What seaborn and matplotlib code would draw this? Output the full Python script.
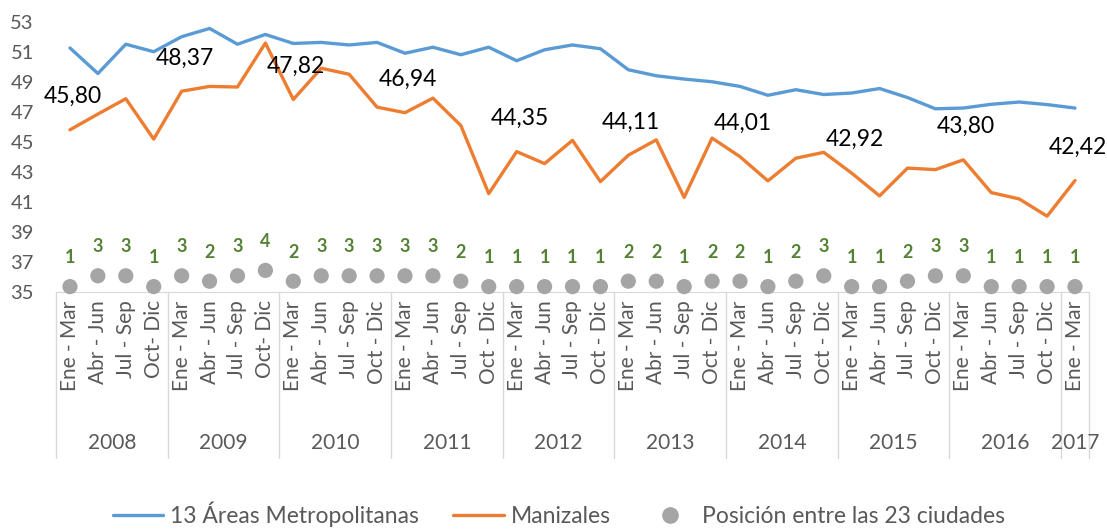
import numpy as np
import pandas as pd
import seaborn as sns
import matplotlib.pyplot as plt
from matplotlib.lines import Line2D
from matplotlib.transforms import blended_transform_factory

years = ["2008", "2009", "2010", "2011", "2012", "2013", "2014", "2015", "2016", "2017"]
quarters = ["Ene - Mar", "Abr - Jun", "Jul - Sep", "Oct - Dic"]
quarters_per_year = [4, 4, 4, 4, 4, 4, 4, 4, 4, 1]

areas = [51.25, 49.55, 51.5, 51.0, 52.0, 52.55, 51.5, 52.15, 51.55, 51.62, 51.45,
         51.62, 50.9, 51.3, 50.8, 51.3, 50.4, 51.13, 51.45, 51.2, 49.8, 49.4,
         49.18, 49.0, 48.69, 48.1, 48.47, 48.15, 48.25, 48.55, 47.95, 47.2,
         47.25, 47.5, 47.65, 47.48, 47.25]
manizales = [45.80, 46.85, 47.87, 45.18, 48.37, 48.69, 48.65, 51.58, 47.82, 49.9,
             49.5, 47.31, 46.94, 47.91, 46.09, 41.55, 44.35, 43.55, 45.1, 42.35,
             44.11, 45.13, 41.3, 45.25, 44.01, 42.4, 43.91, 44.3, 42.92, 41.4,
             43.25, 43.15, 43.80, 41.62, 41.2, 40.05, 42.42]
posicion = [1, 3, 3, 1, 3, 2, 3, 4, 2, 3, 3, 3, 3, 3, 2, 1, 1, 1, 1, 1, 2, 2, 1, 2,
            2, 1, 2, 3, 1, 1, 2, 3, 3, 1, 1, 1, 1]

quarter_labels = []
for y, n in zip(years, quarters_per_year):
    quarter_labels += quarters[:n]
quarter_labels[3] = "Oct- Dic"
quarter_labels[7] = "Oct- Dic"

df = pd.DataFrame({"idx": np.arange(len(areas)), "areas": areas,
                   "manizales": manizales, "posicion": posicion})

BLUE = "#5B9BD5"
ORANGE = "#ED7D31"
GRAY = "#A5A5A5"
GREEN = "#548235"
TXT = "#595959"

sns.set_style("white")
plt.rcParams["font.family"] = ["Lato", "DejaVu Sans"]

fig, ax = plt.subplots(figsize=(11.07, 5.29), dpi=100)
fig.subplots_adjust(left=0.0506, right=0.9837, bottom=0.448, top=0.959)

sns.lineplot(data=df, x="idx", y="areas", color=BLUE, lw=2.4, ax=ax)
sns.lineplot(data=df, x="idx", y="manizales", color=ORANGE, lw=2.4, ax=ax)

ax.set_xlim(-0.5, len(areas) - 0.5)
ax.set_ylim(35, 53)
ax.set_yticks(range(35, 54, 2))
ax.set_xticks(df["idx"])
ax.set_xticklabels(quarter_labels, rotation=90, va="top", ha="center")
ax.tick_params(axis="x", length=0, pad=6, labelsize=15, labelcolor=TXT)
ax.tick_params(axis="y", length=0, pad=16, labelsize=14.5, labelcolor=TXT)
ax.set_xlabel("")
ax.set_ylabel("")
for s in ["left", "right", "top"]:
    ax.spines[s].set_visible(False)
ax.spines["bottom"].set_color("#D9D9D9")

# data labels for first quarter of each year
for i in range(0, len(manizales), 4):
    ax.annotate(f"{manizales[i]:.2f}".replace(".", ","), (i, manizales[i]),
                xytext=(2, 24), textcoords="offset points", ha="center",
                va="center", fontsize=16.5, color="black")

# ranking dots on a hidden secondary axis
ax2 = ax.twinx()
sns.scatterplot(data=df, x="idx", y="posicion", color=GRAY, s=120,
                edgecolor="none", ax=ax2, clip_on=False, zorder=3)
ax2.set_ylim(0, 50)
ax2.set_xlim(-0.5, len(areas) - 0.5)
ax2.axis("off")
for i, p in enumerate(posicion):
    ax2.annotate(str(p), (i, p), xytext=(0, 21), textcoords="offset points",
                 ha="center", va="center", fontsize=13, fontweight="bold",
                 color=GREEN)

# year groups under the quarter labels
tr = blended_transform_factory(ax.transData, ax.transAxes)
start = 0
bounds = [-0.5]
for y, n in zip(years, quarters_per_year):
    ax.text(start + (n - 1) / 2, -0.559, y, transform=tr, ha="center",
            va="center", fontsize=15, color=TXT)
    start += n
    bounds.append(start - 0.5)
for b in bounds:
    ax.plot([b, b], [0, -0.614], transform=tr, color="#D9D9D9", lw=1,
            clip_on=False)

handles = [Line2D([], [], color=BLUE, lw=2.4),
           Line2D([], [], color=ORANGE, lw=2.4),
           Line2D([], [], color=GRAY, marker="o", ls="none", markersize=11)]
labels = ["13 Áreas Metropolitanas", "Manizales", "Posición entre las 23 ciudades"]
leg = fig.legend(handles, labels, loc="lower center", bbox_to_anchor=(0.505, -0.035),
                 ncol=3, frameon=False, fontsize=16.5, handlelength=2.2,
                 columnspacing=1.5, handletextpad=0.3)
for t in leg.get_texts():
    t.set_color(TXT)

plt.savefig("out.png", dpi=100)
plt.close()
